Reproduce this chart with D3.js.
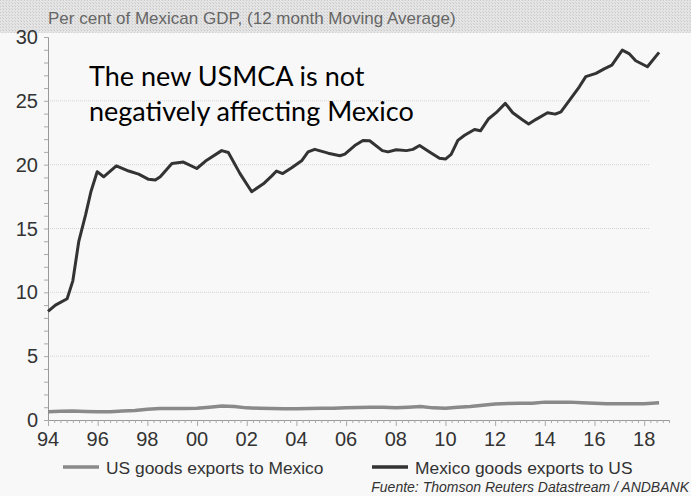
<!DOCTYPE html>
<html>
<head>
<meta charset="utf-8">
<script src="https://cdn.jsdelivr.net/npm/d3@7/dist/d3.min.js"></script>
<style>
  body { margin: 0; background: #f8f8f8; }
  svg { display: block; }
</style>
</head>
<body>
<div id="main"></div>
<script>
// Mexico goods exports to US, % of Mexican GDP
const mexYears = [1994.0, 1994.3, 1994.77, 1995.0, 1995.24, 1995.51, 1995.73, 1995.98, 1996.24, 1996.75,
  1997.25, 1997.65, 1998.05, 1998.32, 1998.52, 1998.99, 1999.45, 1999.99, 2000.39, 2000.99,
  2001.26, 2001.73, 2002.2, 2002.67, 2003.0, 2003.2, 2003.45, 2003.81, 2004.21, 2004.47,
  2004.74, 2005.28, 2005.75, 2005.95, 2006.35, 2006.68, 2006.95, 2007.46, 2007.69, 2008.02,
  2008.43, 2008.69, 2008.96, 2009.36, 2009.76, 2010.0, 2010.23, 2010.5, 2010.77, 2011.17,
  2011.41, 2011.74, 2012.04, 2012.41, 2012.71, 2013.11, 2013.35, 2013.65, 2014.11, 2014.42,
  2014.65, 2015.05, 2015.39, 2015.65, 2016.06, 2016.39, 2016.7, 2017.12, 2017.39, 2017.66,
  2018.13, 2018.6];
const mexValues = [8.5, 9.0, 9.5, 10.9, 14.0, 16.05, 17.9, 19.45, 19.05, 19.9,
  19.5, 19.26, 18.85, 18.8, 19.05, 20.1, 20.2, 19.7, 20.35, 21.1,
  20.95, 19.3, 17.88, 18.5, 19.1, 19.5, 19.3, 19.76, 20.3, 21.0,
  21.2, 20.9, 20.7, 20.83, 21.5, 21.9, 21.87, 21.1, 21.0, 21.17,
  21.1, 21.2, 21.5, 21.0, 20.5, 20.44, 20.8, 21.9, 22.3, 22.76,
  22.65, 23.6, 24.07, 24.8, 24.07, 23.5, 23.18, 23.55, 24.07, 23.96,
  24.14, 25.2, 26.1, 26.9, 27.15, 27.5, 27.8, 28.97, 28.7, 28.14,
  27.67, 28.8];

// US goods exports to Mexico, % of Mexican GDP
const usYears = [1994.0, 1994.5, 1995.0, 1995.5, 1996.0, 1996.5, 1997.0, 1997.5, 1998.0, 1998.5,
  1999.0, 1999.5, 2000.0, 2000.5, 2001.0, 2001.5, 2002.0, 2002.5, 2003.0, 2003.5,
  2004.0, 2004.5, 2005.0, 2005.5, 2006.0, 2006.5, 2007.0, 2007.5, 2008.0, 2008.5,
  2009.0, 2009.5, 2010.0, 2010.5, 2011.0, 2011.5, 2012.0, 2012.5, 2013.0, 2013.5,
  2014.0, 2014.5, 2015.0, 2015.5, 2016.0, 2016.5, 2017.0, 2017.5, 2018.0, 2018.6];
const usValues = [0.65, 0.68, 0.7, 0.67, 0.65, 0.65, 0.7, 0.75, 0.85, 0.9,
  0.9, 0.9, 0.92, 1.0, 1.1, 1.05, 0.95, 0.92, 0.9, 0.88,
  0.88, 0.9, 0.92, 0.92, 0.95, 0.98, 1.0, 1.0, 0.95, 1.0,
  1.05, 0.95, 0.92, 1.0, 1.05, 1.15, 1.25, 1.3, 1.32, 1.32,
  1.4, 1.4, 1.4, 1.35, 1.32, 1.28, 1.28, 1.28, 1.28, 1.35];

const xTicks = [1994, 1996, 1998, 2000, 2002, 2004, 2006, 2008, 2010, 2012, 2014, 2016, 2018];
const yTicks = [0, 5, 10, 15, 20, 25, 30];
const seriesNames = ["US goods exports to Mexico", "Mexico goods exports to US"];
const seriesColors = ["#8a8a8a", "#333333"];

const width = 691, height = 496;
const plotLeft = 48, plotRight = 669, plotTop = 37, plotBottom = 420;

const svg = d3.select("#main").append("svg")
  .attr("width", width)
  .attr("height", height);

// textured header band
const defs = svg.append("defs");
const pat = defs.append("pattern")
  .attr("id", "dots")
  .attr("width", 3).attr("height", 3)
  .attr("patternUnits", "userSpaceOnUse");
pat.append("rect").attr("width", 3).attr("height", 3).attr("fill", "#e4e4e4");
pat.append("rect").attr("width", 1).attr("height", 1).attr("fill", "#c8c8c8");
pat.append("rect").attr("x", 2).attr("y", 2).attr("width", 1).attr("height", 1).attr("fill", "#d2d2d2");

svg.append("rect")
  .attr("x", 0).attr("y", 0)
  .attr("width", width).attr("height", 33)
  .attr("fill", "url(#dots)");

svg.append("text")
  .attr("x", 48).attr("y", 24)
  .attr("font-family", "Liberation Sans, Arial, sans-serif")
  .attr("font-size", 17)
  .attr("fill", "#666")
  .text("Per cent of Mexican GDP, (12 month Moving Average)");

const x = d3.scaleLinear().domain([1994, 2019]).range([plotLeft, plotRight]);
const y = d3.scaleLinear().domain([0, 30]).range([plotBottom, plotTop]);

// grid lines
svg.append("g")
  .selectAll("line")
  .data(yTicks.filter(d => d > 0 && d < 30))
  .enter().append("line")
  .attr("x1", plotLeft).attr("x2", 650)
  .attr("y1", d => y(d)).attr("y2", d => y(d))
  .attr("stroke", "#d4d4d4")
  .attr("stroke-dasharray", "1,1");

// y axis
const yAxis = svg.append("g")
  .attr("transform", "translate(" + plotLeft + ",0)")
  .call(d3.axisLeft(y).tickValues(d3.range(0, 31, 1)).tickSize(4).tickFormat(""));
yAxis.select(".domain").attr("stroke", "#999");
yAxis.selectAll(".tick line").attr("stroke", "#aaa");

svg.append("g")
  .selectAll("text")
  .data(yTicks)
  .enter().append("text")
  .attr("x", 38)
  .attr("y", d => y(d) + 7)
  .attr("text-anchor", "end")
  .attr("font-family", "Liberation Sans Narrow, Liberation Sans, Arial, sans-serif")
  .attr("font-size", 20)
  .attr("fill", "#333")
  .text(d => d);

// x axis: quarterly minor ticks, major ticks every 2 years
const xAxis = svg.append("g")
  .attr("transform", "translate(0," + plotBottom + ")")
  .call(d3.axisBottom(x).tickValues(d3.range(1994, 2019.01, 0.25)).tickSize(3).tickFormat(""));
xAxis.select(".domain").attr("stroke", "#999");
xAxis.selectAll(".tick line").attr("stroke", "#aaa");
xAxis.selectAll(".tick")
  .filter(d => xTicks.indexOf(d) >= 0)
  .select("line").attr("y2", 6);

svg.append("g")
  .selectAll("text")
  .data(xTicks)
  .enter().append("text")
  .attr("x", d => x(d))
  .attr("y", 446)
  .attr("text-anchor", "middle")
  .attr("font-family", "Liberation Sans Narrow, Liberation Sans, Arial, sans-serif")
  .attr("font-size", 20)
  .attr("fill", "#333")
  .text(d => String(d).slice(2));

// lines
const line = d3.line()
  .x(d => x(d[0]))
  .y(d => y(d[1]));

svg.append("path")
  .datum(usYears.map((d, i) => [d, usValues[i]]))
  .attr("fill", "none")
  .attr("stroke", seriesColors[0])
  .attr("stroke-width", 3.5)
  .attr("stroke-linejoin", "round")
  .attr("d", line);

svg.append("path")
  .datum(mexYears.map((d, i) => [d, mexValues[i]]))
  .attr("fill", "none")
  .attr("stroke", seriesColors[1])
  .attr("stroke-width", 3)
  .attr("stroke-linejoin", "round")
  .attr("d", line);

// annotation
const note = svg.append("text")
  .attr("font-family", "Lato, Open Sans, sans-serif")
  .attr("font-size", 27)
  .attr("fill", "#000");
note.append("tspan").attr("x", 89).attr("y", 86).text("The new USMCA is not");
note.append("tspan").attr("x", 89).attr("y", 121).text("negatively affecting Mexico");

// legend
const legendX = [63, 372];
const legend = svg.append("g")
  .selectAll("g")
  .data(seriesNames)
  .enter().append("g")
  .attr("transform", (d, i) => "translate(" + legendX[i] + ",467)");
legend.append("line")
  .attr("x1", 0).attr("x2", 36)
  .attr("stroke", (d, i) => seriesColors[i])
  .attr("stroke-width", 3.5);
legend.append("text")
  .attr("x", 43).attr("y", 7)
  .attr("font-family", "Liberation Sans, Arial, sans-serif")
  .attr("font-size", 17.4)
  .attr("fill", "#333")
  .text(d => d);

svg.append("text")
  .attr("x", 689).attr("y", 492)
  .attr("text-anchor", "end")
  .attr("font-family", "Liberation Sans, Arial, sans-serif")
  .attr("font-size", 14)
  .attr("font-style", "italic")
  .attr("fill", "#333")
  .text("Fuente: Thomson Reuters Datastream / ANDBANK");
</script>
</body>
</html>
